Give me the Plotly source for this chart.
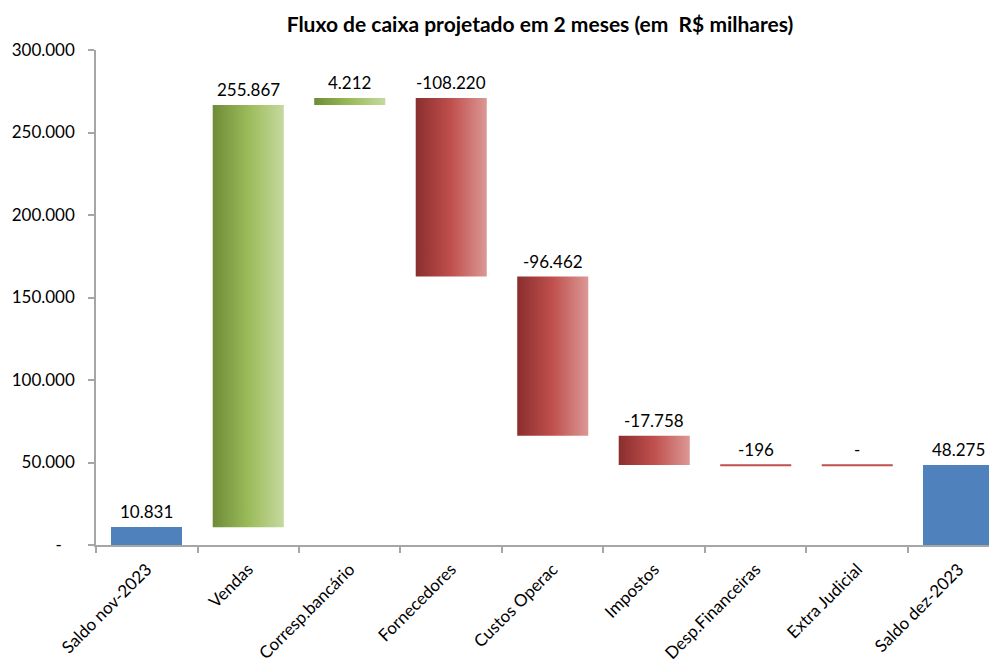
import plotly.graph_objects as go

categories = ["Saldo nov-2023", "Vendas", "Corresp.bancário", "Fornecedores",
              "Custos Operac", "Impostos", "Desp.Financeiras", "Extra Judicial",
              "Saldo dez-2023"]
values = [10831, 255867, 4212, -108220, -96462, -17758, -196, 0, 48275]
kinds = ["total", "delta", "delta", "delta", "delta", "delta", "delta", "delta", "total"]
labels = ["10.831", "255.867", "4.212", "-108.220", "-96.462", "-17.758", "-196", "-", "48.275"]

y_ticks = [0, 50000, 100000, 150000, 200000, 250000, 300000]
y_ticktext = ["-\u00a0\u00a0\u00a0", "50.000", "100.000", "150.000", "200.000", "250.000", "300.000"]

FONT = "Lato"
BLUE = "#4F81BD"
GREEN = [[0, "#6E8B37"], [0.5, "#9BBB59"], [1, "#C5D99F"]]
RED = [[0, "#8A2E2E"], [0.5, "#C0504D"], [1, "#DB9896"]]
W = 0.7

fig = go.Figure()

# running totals for the waterfall
run = 0
tops = []
for i, (v, k) in enumerate(zip(values, kinds)):
    if k == "total":
        base, end = 0, v
        run = v
        fig.add_trace(go.Bar(x=[i], y=[v], base=[0], width=W,
                             marker=dict(color=BLUE, line=dict(width=0)),
                             showlegend=False, hoverinfo="skip"))
    else:
        base, end = run, run + v
        run = end
        lo, hi = min(base, end), max(base, end)
        scale = GREEN if v > 0 else RED
        thin = abs(v) < 2000
        fig.add_trace(go.Scatter(
            x=[i - W / 2, i + W / 2, i + W / 2, i - W / 2, i - W / 2],
            y=[lo, lo, hi, hi, lo],
            fill="toself",
            fillgradient=dict(type="horizontal", colorscale=scale),
            mode="lines",
            line=dict(width=2 if thin else 0, color="#C0504D"),
            showlegend=False, hoverinfo="skip"))
    tops.append(max(base, end))

for i, (t, lab) in enumerate(zip(tops, labels)):
    fig.add_annotation(x=i, y=t, text=lab, showarrow=False,
                       xanchor="center", yanchor="bottom", yshift=3,
                       font=dict(family=FONT, size=17, color="#000000"))

fig.update_xaxes(
    range=[-0.5, 8.377], automargin=False,
    tickvals=list(range(len(categories))), ticktext=categories,
    tickangle=-45, ticks="", showgrid=False, zeroline=False,
    showline=True, linecolor="#A6A6A6", linewidth=1.5,
    ticklabelstandoff=6,
    tickfont=dict(family=FONT, size=17, color="#000000"),
    minor=dict(tickmode="linear", tick0=0.5, dtick=1, ticks="outside",
               ticklen=6, tickcolor="#A6A6A6", tickwidth=1.5, showgrid=False),
)
fig.update_yaxes(
    range=[0, 300000], automargin=False,
    tickvals=y_ticks, ticktext=y_ticktext,
    ticks="outside", ticklen=6, tickcolor="#A6A6A6", tickwidth=1.5,
    showgrid=False, zeroline=False,
    showline=True, linecolor="#A6A6A6", linewidth=1.5,
    ticklabelstandoff=10,
    tickfont=dict(family=FONT, size=17, color="#000000"),
)
# page has an 8px body margin, so the figure is sized to fit the window
fig.update_layout(
    width=989, height=655,
    margin=dict(l=88, r=0, t=42, b=118),
    plot_bgcolor="white", paper_bgcolor="white",
    title=dict(text="<b>Fluxo de caixa projetado em 2 meses (em\u00a0 R$ milhares)</b>",
               x=532 / 989, xanchor="center", y=1 - 17 / 655, yanchor="middle",
               font=dict(family=FONT, size=21, color="#000000")),
    bargap=0,
)

fig.write_html("out.html")
